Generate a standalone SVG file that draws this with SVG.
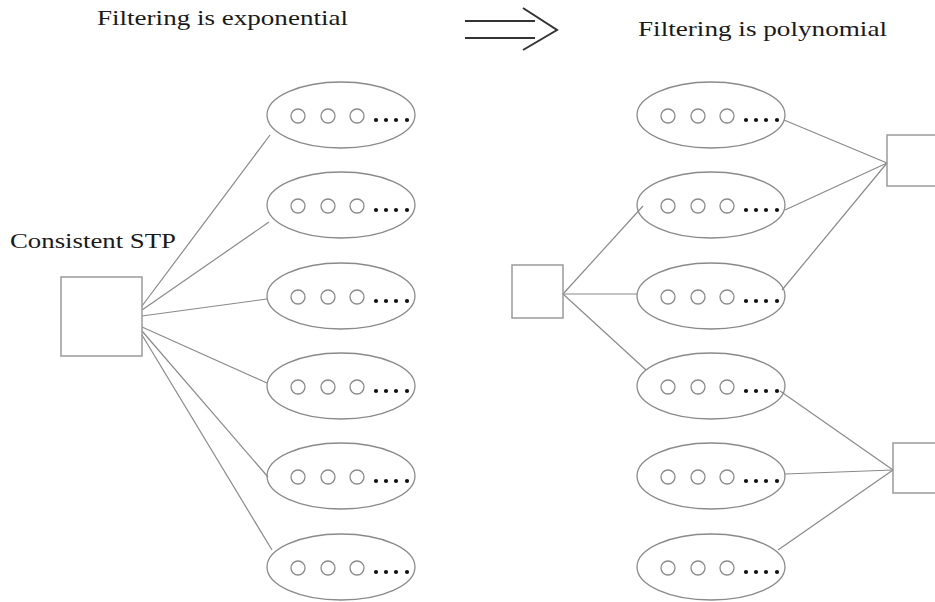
<svg xmlns="http://www.w3.org/2000/svg" width="935" height="602" viewBox="0 0 935 602">
<style>
.t{font-family:"Liberation Serif","Times New Roman",serif;fill:#1a1a1a;}
.e{fill:none;stroke:#8a8a8a;stroke-width:1.3;}
.c{fill:none;stroke:#8a8a8a;stroke-width:1.3;}
.b{fill:none;stroke:#9a9a9a;stroke-width:1.5;}
.l{fill:none;stroke:#8a8a8a;stroke-width:1.2;}
.d{fill:#111;}
.a{fill:none;stroke:#333;stroke-width:2;}
</style>
<defs>
<g id="tok">
<ellipse class="e" cx="0" cy="0" rx="74" ry="33"/>
<circle class="c" cx="-43" cy="1" r="7"/>
<circle class="c" cx="-13" cy="1" r="7"/>
<circle class="c" cx="16" cy="1" r="7"/>
<circle class="d" cx="35" cy="5" r="2.1"/>
<circle class="d" cx="45" cy="5" r="2.1"/>
<circle class="d" cx="55" cy="5" r="2.1"/>
<circle class="d" cx="66" cy="5" r="2.1"/>
</g>
</defs>
<rect width="935" height="602" fill="#fff"/>
<text class="t" x="97" y="25" font-size="21" textLength="251" lengthAdjust="spacingAndGlyphs">Filtering is exponential</text>
<text class="t" x="638" y="36" font-size="21" textLength="249" lengthAdjust="spacingAndGlyphs">Filtering is polynomial</text>
<g id="arrow">
<line class="a" x1="465" y1="21" x2="535" y2="21"/>
<line class="a" x1="465" y1="38" x2="535" y2="38"/>
<polyline class="a" points="523,8 557,30 523,50"/>
</g>
<g id="connectors">
<line class="l" x1="142" y1="306" x2="270" y2="135"/>
<line class="l" x1="142" y1="310" x2="269" y2="222"/>
<line class="l" x1="142" y1="316" x2="267" y2="299"/>
<line class="l" x1="142" y1="327" x2="267" y2="383"/>
<line class="l" x1="142" y1="331" x2="268" y2="477"/>
<line class="l" x1="142" y1="335" x2="272" y2="550"/>
<line class="l" x1="563" y1="294" x2="643" y2="206"/>
<line class="l" x1="563" y1="294" x2="637" y2="294"/>
<line class="l" x1="563" y1="294" x2="646" y2="370"/>
<line class="l" x1="784" y1="120" x2="887" y2="163"/>
<line class="l" x1="785" y1="210" x2="887" y2="163"/>
<line class="l" x1="782" y1="290" x2="887" y2="163"/>
<line class="l" x1="780" y1="391" x2="893" y2="470"/>
<line class="l" x1="785" y1="474" x2="893" y2="470"/>
<line class="l" x1="778" y1="550" x2="893" y2="470"/>
</g>
<g id="stp-left">
<text class="t" x="10" y="248" font-size="22" textLength="166" lengthAdjust="spacingAndGlyphs">Consistent STP</text>
<rect class="b" x="61" y="277" width="81" height="79"/>
</g>
<g id="stp-right"><rect class="b" x="512" y="265" width="51" height="53"/></g>
<g id="box-top-right"><rect class="b" x="887" y="135" width="60" height="51"/></g>
<g id="box-bottom-right"><rect class="b" x="893" y="443" width="60" height="50"/></g>
<g id="L1"><use href="#tok" x="341" y="115"/></g>
<g id="L2"><use href="#tok" x="341" y="205"/></g>
<g id="L3"><use href="#tok" x="341" y="296"/></g>
<g id="L4"><use href="#tok" x="341" y="386"/></g>
<g id="L5"><use href="#tok" x="341" y="476"/></g>
<g id="L6"><use href="#tok" x="341" y="567"/></g>
<g id="R1"><use href="#tok" x="711" y="115"/></g>
<g id="R2"><use href="#tok" x="711" y="205"/></g>
<g id="R3"><use href="#tok" x="711" y="296"/></g>
<g id="R4"><use href="#tok" x="711" y="386"/></g>
<g id="R5"><use href="#tok" x="711" y="476"/></g>
<g id="R6"><use href="#tok" x="711" y="567"/></g>
</svg>
